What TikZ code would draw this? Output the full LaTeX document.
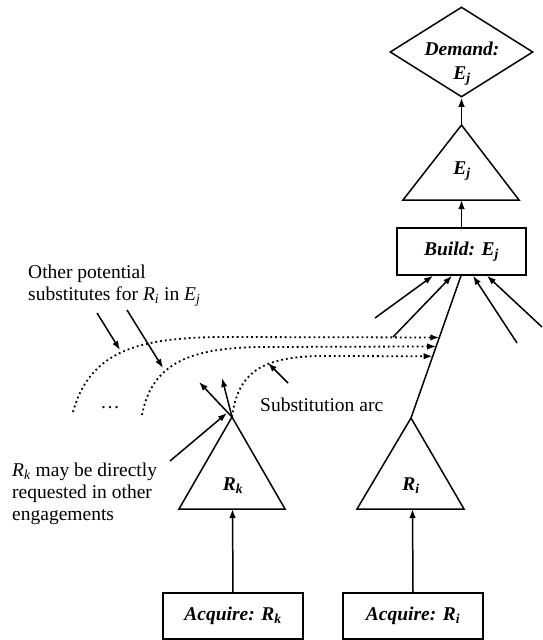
\documentclass[tikz,border=0pt]{standalone}
\usepackage{fontspec}
\setmainfont{Liberation Serif}
\usetikzlibrary{arrows.meta,shapes.geometric,calc}

% italic variable with an italic subscript
\newcommand\var[2]{\textit{#1}\textsubscript{\textit{#2}}}

\begin{document}
\begin{tikzpicture}[x=1pt,y=-1pt,
  every node/.style={font=\fontsize{19.5}{22}\selectfont},
  stroke/.style={line width=1.5pt},
  arr/.style={stroke,-{Latex[length=9pt,width=6.5pt]}},
  dotarc/.style={line width=1.8pt,dash pattern=on 1.8pt off 3pt,-{Latex[length=9pt,width=6.5pt]}},
  stepbox/.style={draw,stroke,inner sep=0pt,font=\fontsize{19.5}{22}\selectfont\bfseries\itshape},
  tri/.style={stroke,line join=miter},
  lbl/.style={align=left,inner sep=0pt}]
\useasboundingbox (0,0) rectangle (542,640);

% ---- top: demand, engagement, build
\node[diamond,draw,stroke,minimum width=143pt,minimum height=90pt,inner sep=0pt] (dem) at (461.5,52) {};
\node[align=center,inner sep=0pt,font=\fontsize{19.5}{24}\selectfont\bfseries\itshape] (demtxt) at (462,64) {Demand:\\E\textsubscript{j}};

\coordinate (EjA) at (461.5,125);
\coordinate (EjL) at (403,200);
\coordinate (EjR) at (519,200);
\coordinate (EjB) at (461.5,200);
\draw[tri] (EjA) -- (EjL) -- (EjR) -- cycle;
\node[font=\fontsize{19.5}{22}\selectfont\bfseries\itshape] (Ej) at (462,171) {E\textsubscript{j}};

\node[stepbox,minimum width=129pt,minimum height=47pt] (build) at (461.5,251.5) {Build: E\textsubscript{j}};

\draw[arr] (build.north) -- (EjB);
\draw[arr] (EjA) -- (dem.south);

% ---- resource triangles
\coordinate (RkA) at (232,417);
\coordinate (RkL) at (179,509);
\coordinate (RkR) at (285,509);
\coordinate (RkB) at (232.5,509);
\draw[tri] (RkA) -- (RkL) -- (RkR) -- cycle;
\node[font=\fontsize{19.5}{22}\selectfont\bfseries\itshape] (Rk) at (233,486) {R\textsubscript{k}};

\coordinate (RiA) at (411,418);
\coordinate (RiL) at (357,509);
\coordinate (RiR) at (464,509);
\coordinate (RiB) at (412.5,509);
\draw[tri] (RiA) -- (RiL) -- (RiR) -- cycle;
\node[font=\fontsize{19.5}{22}\selectfont\bfseries\itshape] (Ri) at (411,486) {R\textsubscript{i}};

% ---- acquisition steps
\node[stepbox,minimum width=140pt,minimum height=46pt] (acqk) at (233,616) {Acquire: R\textsubscript{k}};
\node[stepbox,minimum width=140pt,minimum height=46pt] (acqi) at (413,616) {Acquire: R\textsubscript{i}};
\draw[arr] (acqk.north) -- (RkB);
\draw[arr] (acqi.north) -- (RiB);

% ---- R_i feeds the build step
\draw[stroke] (RiA) -- ([xshift=-0.5pt]build.south);
\path (RiA) -- ([xshift=-0.5pt]build.south)
  coordinate[pos=0.566] (s1)
  coordinate[pos=0.503] (s2)
  coordinate[pos=0.434] (s3);

% other inputs of the build step
\coordinate (in1) at (375,318);
\coordinate (in2) at (393,337);
\coordinate (in3) at (517,343);
\coordinate (in4) at (542,327);
\draw[arr] (in1) -- ([xshift=-28.5pt]build.south);
\draw[arr] (in2) -- ([xshift=-9.5pt]build.south);
\draw[arr] (in3) -- ([xshift=11.5pt]build.south);
\draw[arr] (in4) -- ([xshift=25.5pt]build.south);

% ---- substitution arcs
\coordinate (sub1) at (73,412);
\coordinate (sub2) at (142,415);
\draw[dotarc] (sub1) .. controls (90,350) and (140,338) .. (220,337) -- (s1);
\draw[dotarc] (sub2) .. controls (152,362) and (192,348) .. (260,347) -- (s2);
\draw[dotarc] (RkA) .. controls (238,372) and (262,357) .. (320,356) -- (s3);
\node[inner sep=0pt] (more) at (110,408) {\dots};

% ---- R_k used elsewhere
\coordinate (out1) at (199,382);
\coordinate (out2) at (222,378);
\coordinate (req) at (170,461);
\draw[arr] (RkA) -- (out1);
\draw[arr] (RkA) -- (out2);
\draw[arr] (req) -- ($(RkA)+(-5,-4)$);

% ---- annotations
\node[lbl,anchor=west] (others) at (28,286) {Other potential\\substitutes for \var{R}{i} in \var{E}{j}};
\coordinate (o1) at (97,313);
\coordinate (o1t) at (120,350);
\coordinate (o2) at (127,310);
\coordinate (o2t) at (163,368);
\draw[arr] (o1) -- (o1t);
\draw[arr] (o2) -- (o2t);

\node[lbl,anchor=west] (subarc) at (260,405) {Substitution arc};
\coordinate (sa) at (288,383);
\coordinate (sat) at (268,363);
\draw[arr] (sa) -- (sat);

\node[lbl,anchor=west] (direct) at (12,494) {\var{R}{k} may be directly\\requested in other\\engagements};
\end{tikzpicture}
\end{document}
